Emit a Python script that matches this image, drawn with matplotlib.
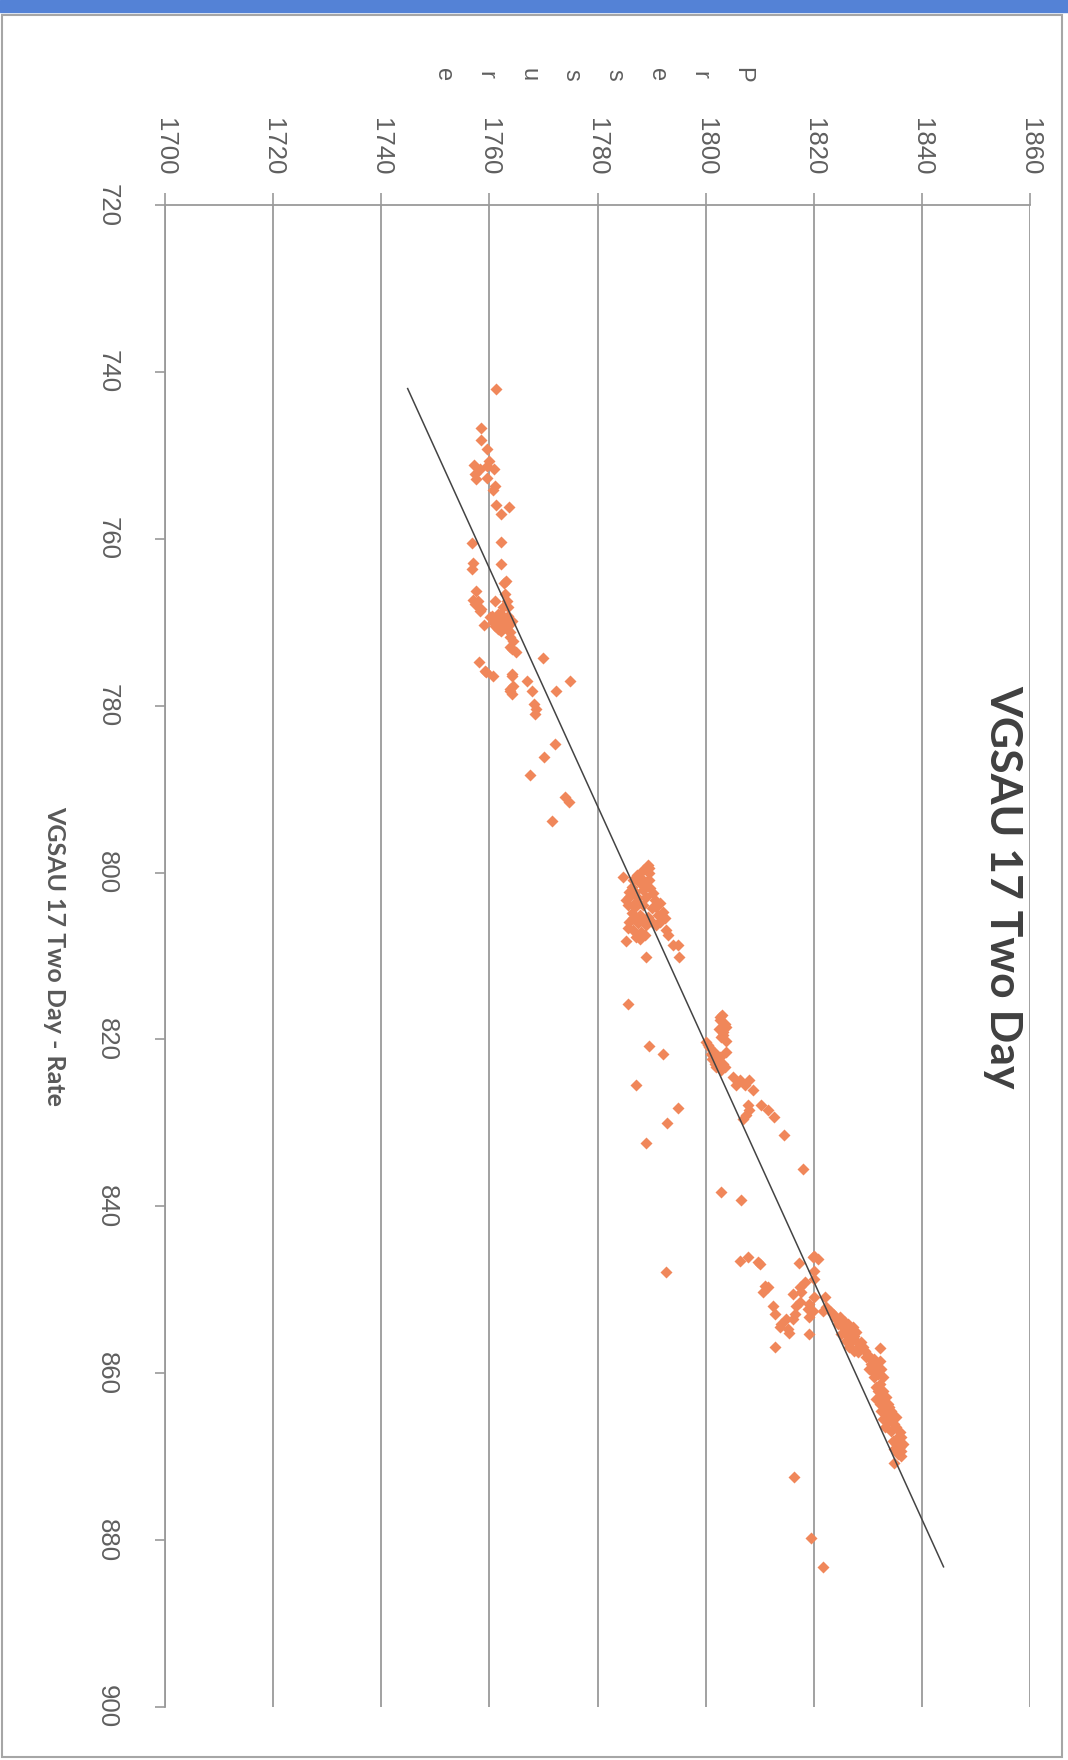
import matplotlib.pyplot as plt
from matplotlib.patches import Rectangle

plt.rcParams['font.family'] = ['Liberation Sans', 'DejaVu Sans']

# chart is stored rotated 90 degrees clockwise: Rate runs down, Pressure runs right
title = 'VGSAU 17 Two Day'
rate_label = 'VGSAU 17 Two Day - Rate'
pressure_label = 'Pressure'

rate_ticks = [720, 740, 760, 780, 800, 820, 840, 860, 880, 900]
pressure_ticks = [1700, 1720, 1740, 1760, 1780, 1800, 1820, 1840, 1860]

# first group of readings (rate 742 - 794)
rate_a = [742.0, 746.7, 748.2, 749.2, 751.1, 751.6, 751.3, 750.7, 751.6, 752.2,
          752.8, 752.7, 753.7, 754.1, 755.9, 756.2, 757.0, 760.5, 760.4, 762.9,
          763.6, 763.0, 765.0, 765.3, 766.2, 767.3, 767.4, 767.8, 768.4, 768.6,
          767.4, 766.6, 767.4, 768.2, 768.2, 769.2, 769.4, 769.0, 769.6, 769.8,
          770.0, 770.2, 770.4, 770.2, 770.8, 770.6, 769.8, 770.3, 770.9, 771.8,
          772.2, 773.2, 773.6, 773.0, 774.3, 774.8, 775.8, 776.0, 776.5, 776.2,
          776.5, 777.0, 777.0, 778.0, 778.6, 777.6, 778.2, 778.3, 778.2, 779.8,
          780.4, 781.0, 784.6, 786.2, 788.3, 791.0, 791.5, 793.8,
          769.4, 769.0, 769.8, 769.2, 771.0, 770.4, 770.8, 771.2]
pressure_a = [1761.2, 1758.4, 1758.4, 1759.6, 1757.1, 1758.2, 1759.5, 1760.0, 1760.8, 1757.3,
              1757.6, 1759.6, 1761.0, 1760.7, 1761.3, 1763.6, 1762.1, 1756.7, 1762.2, 1756.9,
              1756.7, 1762.1, 1763.0, 1762.7, 1757.6, 1757.0, 1757.9, 1757.3, 1758.5, 1758.2,
              1761.0, 1762.8, 1763.2, 1762.5, 1763.5, 1760.4, 1761.3, 1762.2, 1763.2, 1764.1,
              1760.7, 1761.9, 1762.8, 1763.8, 1761.6, 1762.5, 1761.0, 1759.0, 1761.9, 1763.8,
              1764.4, 1764.1, 1764.9, 1763.8, 1769.9, 1758.0, 1759.1, 1759.3, 1760.6, 1764.1,
              1764.1, 1766.9, 1774.9, 1763.8, 1764.1, 1764.4, 1763.9, 1767.8, 1772.4, 1768.2,
              1768.6, 1768.4, 1772.2, 1770.1, 1767.5, 1773.9, 1774.7, 1771.6,
              1760.1, 1761.6, 1762.5, 1763.5, 1762.2, 1761.0, 1763.2, 1763.9]

# second group (rate 799 - 833)
rate_b = [799.1, 800.3, 800.5, 800.1, 801.1, 801.3, 801.7, 802.3, 802.1, 801.9,
          802.9, 803.1, 802.9, 803.3, 803.7, 803.9, 804.1, 803.9, 804.3, 804.7,
          805.1, 804.9, 805.1, 805.3, 805.5, 805.9, 806.1, 806.3, 806.9, 807.1,
          807.7, 808.0, 806.9, 807.5, 808.7, 808.7, 810.1, 808.2, 810.1, 815.8,
          820.8, 821.7, 825.4, 828.2, 830.0, 832.4,
          800.9, 800.7, 800.9, 802.3, 802.5, 803.3, 803.5, 804.1, 805.5, 805.7,
          805.9, 806.3, 806.7, 807.5, 805.9, 799.7, 799.5,
          817.1, 817.7, 818.1, 818.7, 819.1, 819.7, 820.2, 820.3, 820.9, 821.5,
          821.5, 822.3, 822.5, 822.9, 823.3, 823.7, 824.5, 824.9, 824.9, 825.5,
          825.5, 826.1, 827.9, 828.5, 829.3, 827.9, 828.5, 829.1, 829.5, 831.5,
          817.3, 818.5, 819.5, 821.7, 820.7, 822.1, 823.3, 822.9]
pressure_b = [1789.3, 1787.3, 1784.7, 1789.5, 1788.9, 1787.8, 1786.3, 1786.9, 1788.4, 1789.8,
              1785.9, 1787.5, 1789.0, 1790.6, 1791.5, 1785.6, 1786.9, 1788.4, 1790.0, 1792.1,
              1791.2, 1786.3, 1787.8, 1789.3, 1792.4, 1785.9, 1787.5, 1789.0, 1786.6, 1788.1,
              1787.2, 1787.8, 1792.7, 1793.0, 1794.0, 1794.9, 1795.1, 1785.3, 1789.0, 1785.6,
              1789.5, 1792.1, 1787.1, 1794.9, 1792.9, 1788.9,
              1786.6, 1788.1, 1789.6, 1785.9, 1790.3, 1785.3, 1787.2, 1790.9, 1786.6, 1788.4,
              1790.0, 1790.9, 1785.6, 1788.7, 1791.5, 1788.4, 1789.6,
              1803.1, 1802.6, 1803.5, 1802.5, 1803.3, 1802.9, 1803.7, 1800.1, 1800.7, 1801.5,
              1803.8, 1801.2, 1802.3, 1803.2, 1802.0, 1802.9, 1805.0, 1806.3, 1808.1, 1805.7,
              1807.2, 1808.7, 1810.3, 1811.5, 1812.7, 1807.8, 1808.1, 1807.5, 1806.9, 1814.5,
              1802.7, 1803.7, 1803.2, 1801.0, 1800.4, 1802.6, 1803.5, 1801.7]

# third group (rate 835 - 884)
rate_c = [835.5, 838.3, 839.3, 846.5, 846.1, 846.7, 846.9, 845.9, 846.3, 846.1,
          846.8, 847.7, 848.7, 849.1, 849.7, 850.3, 850.5, 849.5, 849.7, 850.3,
          850.9, 850.9, 851.9, 851.5, 851.7, 852.3, 852.5, 853.3, 852.9, 853.5,
          853.5, 854.1, 854.5, 854.7, 855.2, 851.9, 852.9, 855.3, 856.9, 852.5,
          852.7, 852.1, 847.9,
          852.9, 853.5, 853.9, 854.1, 854.5, 854.1, 855.1, 854.9, 855.5, 855.3,
          855.7, 856.1, 856.3, 856.1, 856.7, 856.9, 857.3, 857.5, 856.3, 857.0,
          857.9, 858.3, 858.5, 858.9, 859.3, 859.5, 859.9, 860.1, 860.5, 860.5,
          862.1, 862.7, 863.1, 863.7, 863.9, 864.1, 864.5, 864.9, 865.3, 865.3,
          865.5, 865.9, 866.1, 866.5, 867.1, 867.7, 868.1, 868.5, 868.9, 869.1,
          869.3, 869.7, 870.7, 872.4, 879.8, 883.2,
          853.3, 853.9, 854.5, 855.1, 856.9, 857.3, 858.1, 858.5, 859.5, 861.3,
          861.7, 862.1, 862.9, 863.3, 863.7, 864.5, 866.5, 866.9, 867.7, 868.5,
          869.3, 869.9]
pressure_c = [1818.0, 1802.9, 1806.6, 1806.3, 1807.8, 1809.7, 1810.0, 1820.1, 1820.8, 1819.8,
              1817.2, 1820.1, 1820.1, 1818.3, 1817.4, 1817.7, 1816.1, 1810.9, 1811.5, 1810.6,
              1820.1, 1822.0, 1816.8, 1817.4, 1819.2, 1818.9, 1819.8, 1819.2, 1816.5, 1816.1,
              1814.9, 1814.0, 1813.7, 1815.2, 1815.5, 1812.4, 1812.8, 1819.2, 1812.8, 1821.7,
              1823.2, 1822.3, 1792.6,
              1823.5, 1824.2, 1824.8, 1824.5, 1825.4, 1826.3, 1826.0, 1826.9, 1827.5, 1825.1,
              1826.6, 1826.0, 1826.9, 1827.9, 1828.5, 1829.1, 1827.5, 1828.2, 1828.8, 1832.3,
              1830.3, 1831.2, 1832.2, 1830.6, 1831.5, 1832.5, 1830.9, 1831.9, 1832.8, 1831.2,
              1831.9, 1832.5, 1831.6, 1832.2, 1833.1, 1834.0, 1832.5, 1833.4, 1834.3, 1835.2,
              1832.8, 1833.7, 1834.9, 1833.1, 1835.9, 1836.2, 1834.6, 1835.2, 1835.9, 1834.9,
              1836.2, 1835.6, 1834.9, 1816.3, 1819.4, 1821.8,
              1824.8, 1825.7, 1827.2, 1827.8, 1826.6, 1829.4, 1829.7, 1830.9, 1830.3, 1832.2,
              1831.5, 1832.8, 1833.4, 1832.8, 1833.7, 1834.3, 1835.2, 1834.3, 1835.6, 1836.5,
              1835.2, 1836.2]

# linear trendline as shown in the chart: pressure = slope * rate + intercept
trend_slope = 0.702
trend_intercept = 1224.0

rate = rate_a + rate_b + rate_c
pressure = pressure_a + pressure_b + pressure_c

W, H = 1068, 1760
fig = plt.figure(figsize=(W / 100, H / 100), dpi=100)
fig.patch.set_facecolor('white')

# scanned window strip and chart border
fig.patches.append(Rectangle((0, 1 - 12 / H), 1, 12 / H, transform=fig.transFigure,
                             color='#5482d6', zorder=0))
fig.patches.append(Rectangle((2 / W, 1 - 1757 / H), 1060 / W, 1742 / H,
                             transform=fig.transFigure, fill=False,
                             ec='#a6a6a6', lw=1.5, zorder=0))

ax = fig.add_axes([165 / W, 1 - 1707 / H, 865 / W, 1502 / H])
ax.set_xlim(1700, 1860)
ax.set_ylim(900, 720)

grey = '#9a9a9a'
ax.grid(axis='x', color=grey, lw=1.3)
ax.set_axisbelow(True)
for s in ['right', 'bottom']:
    ax.spines[s].set_visible(False)
for s in ['top', 'left']:
    ax.spines[s].set_color(grey)
    ax.spines[s].set_linewidth(1.3)

ax.xaxis.tick_top()
ax.set_xticks(pressure_ticks)
ax.set_yticks(rate_ticks)
ax.tick_params(axis='x', direction='out', length=8.5, width=1.2, color=grey,
               pad=13, labelsize=18.5, labelcolor='#5f5f5f', labelrotation=-90)
ax.tick_params(axis='y', direction='out', length=7, width=1.2, color=grey,
               pad=26, labelsize=18.5, labelcolor='#5f5f5f', labelrotation=-90)
for lbl in ax.get_yticklabels():
    lbl.set_va('center')

ax.plot(pressure, rate, 'D', ms=6, color='#f0875a', mec='none', zorder=3)

trend_rate = [min(rate), max(rate)]
trend_pressure = [trend_slope * r + trend_intercept for r in trend_rate]
ax.plot(trend_pressure, trend_rate, color='#444444', lw=1.1, zorder=4)

# stacked axis title, one letter after the other
for i, ch in enumerate(pressure_label):
    fig.text((742 - i * 42.7) / W, 1 - 75 / H, ch, rotation=-90, ha='center',
             va='center', fontsize=17, color='#5f5f5f')

fig.text(55 / W, 1 - 956 / H, rate_label, rotation=-90, ha='center', va='center',
         fontsize=18, fontweight='bold', family=['Lato', 'DejaVu Sans'], color='#595959')
fig.text(1003 / W, 1 - 887 / H, title, rotation=-90, ha='center', va='center',
         fontsize=32, fontweight='bold', family=['Lato', 'DejaVu Sans'], color='#404040')

fig.savefig('out.png', dpi=100)
